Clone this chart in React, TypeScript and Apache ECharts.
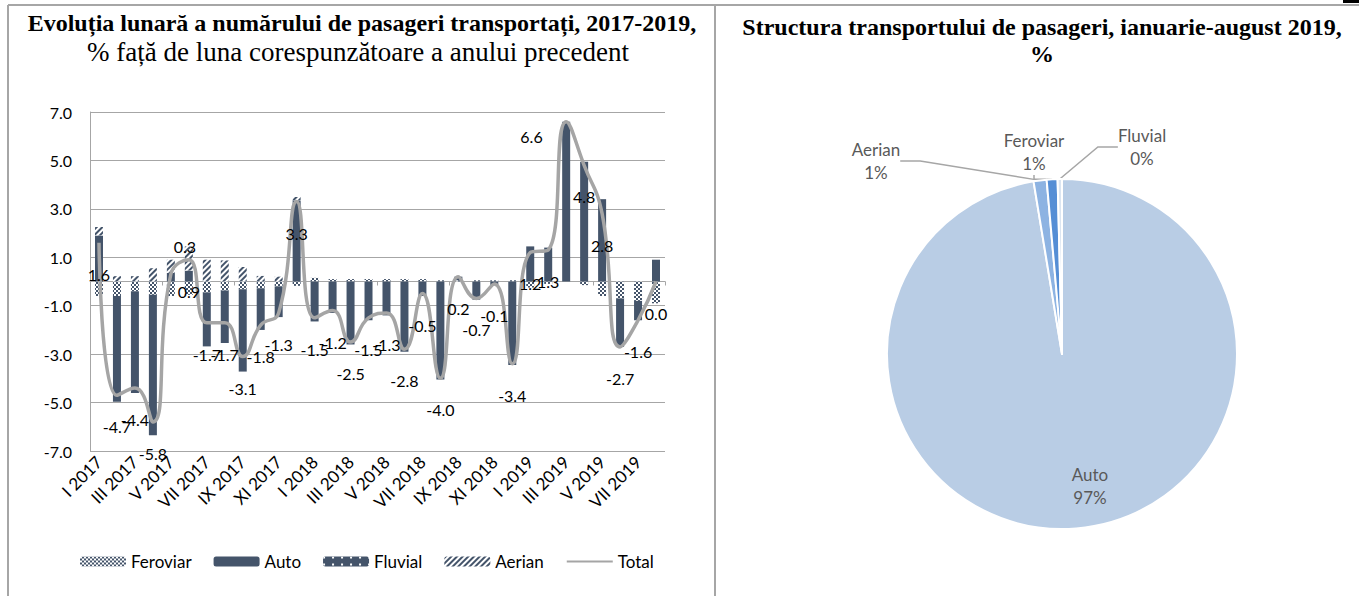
import React, { useEffect, useRef } from "react";
import * as echarts from "echarts";

const months = [
  "I 2017", "II 2017", "III 2017", "IV 2017", "V 2017", "VI 2017", "VII 2017", "VIII 2017",
  "IX 2017", "X 2017", "XI 2017", "XII 2017",
  "I 2018", "II 2018", "III 2018", "IV 2018", "V 2018", "VI 2018", "VII 2018", "VIII 2018",
  "IX 2018", "X 2018", "XI 2018", "XII 2018",
  "I 2019", "II 2019", "III 2019", "IV 2019", "V 2019", "VI 2019", "VII 2019", "VIII 2019",
];

const feroviar = [
  -0.6, -0.6, -0.4, -0.55, -0.6, -0.55, -0.45, -0.37, -0.32, -0.28, -0.2, -0.18,
  0.15, 0.1, 0.1, 0.1, 0.1, 0.1, 0.1, 0.05, 0.05, 0.05, 0.05, 0.05,
  -0.25, -0.1, 0, -0.15, -0.6, -0.7, -0.8, -0.9,
];
const auto = [
  1.9, -4.37, -4.2, -5.8, 0.35, 0.45, -2.23, -2.17, -3.4, -1.72, -1.27, 3.35,
  -1.65, -1.3, -2.6, -1.6, -1.4, -2.9, -0.6, -4.05, 0.15, -0.75, -0.15, -3.45,
  1.45, 1.4, 6.6, 4.95, 3.4, -2.0, -0.8, 0.9,
];
const fluvial = [
  0, 0, 0, 0, 0, 0, 0, 0, 0, 0, 0, 0,
  0, 0, 0, 0, 0, 0, 0, 0, 0, 0, 0, 0,
  0, 0, 0, 0, 0, 0, 0, 0,
];
const aerian = [
  0.35, 0.22, 0.22, 0.55, 0.55, 1.0, 0.9, 0.87, 0.6, 0.23, 0.2, 0.14,
  0, 0, 0, 0, 0, 0, 0, 0, 0, 0, 0, 0,
  0, 0, 0, 0, 0, 0, 0, 0,
];
const total = [
  1.6, -4.7, -4.4, -5.8, 0.3, 0.9, -1.7, -1.7, -3.1, -1.8, -1.3, 3.3,
  -1.5, -1.2, -2.5, -1.5, -1.3, -2.8, -0.5, -4.0, 0.2, -0.7, -0.1, -3.4,
  1.2, 1.3, 6.6, 4.8, 2.8, -2.7, -1.6, 0.0,
];

const pieNames = ["Auto", "Aerian", "Feroviar", "Fluvial"];
const pieValues = [97.4, 1.2, 1.0, 0.4];
const pieColors = ["#b9cde5", "#8db3e2", "#558ed5", "#dbe5f1"];

export default function App() {
  const ref = useRef<HTMLDivElement>(null);

  useEffect(() => {
    const chart = echarts.init(ref.current!, null, { renderer: "svg" });
    const navy = "#44546a";
    const gridLine = "#a6a6a6";
    const sans = "Lato, 'Open Sans', sans-serif";
    const serif = "'Liberation Serif', 'Times New Roman', serif";

    const labelOverrides: Record<number, any> = {
      4: { position: "top", offset: [14, 4] },
      26: { position: "left", offset: [0, 15] },
    };
    const totalData = total.map((v, i) =>
      labelOverrides[i] ? { value: v, label: labelOverrides[i] } : v
    );

    const pieLabelPos: Record<number, [number, number]> = {
      0: [1090, 486],
      1: [876, 161],
      2: [1034, 152],
      3: [1142, 147],
    };

    const pieData = pieNames.map((n, i) => ({
      name: n,
      value: pieValues[i],
      itemStyle: { color: pieColors[i] },
      labelLine: { show: i !== 0 },
    }));

    const barCommon = {
      type: "bar",
      stack: "s",
      barWidth: 8,
      xAxisIndex: 0,
      yAxisIndex: 0,
    };

    const centered = { textAlign: "center", textVerticalAlign: "middle", align: "center", verticalAlign: "middle" };

    chart.setOption({
      animation: false,
      graphic: {
        elements: [
          { type: "line", shape: { x1: 8, y1: 5, x2: 1359, y2: 5 }, style: { stroke: gridLine, lineWidth: 2 } },
          { type: "line", shape: { x1: 8, y1: 5, x2: 8, y2: 596 }, style: { stroke: gridLine, lineWidth: 2 } },
          { type: "line", shape: { x1: 715, y1: 5, x2: 715, y2: 596 }, style: { stroke: gridLine, lineWidth: 2 } },
          { type: "rect", shape: { x: 1343, y: 0, width: 16, height: 3 }, style: { fill: "#000" } },
          {
            type: "text", x: 362, y: 23,
            style: {
              text: "Evoluția lunară a numărului de pasageri transportați, 2017-2019,",
              fontFamily: serif, fontSize: 24, fontWeight: "bold", fill: "#000", ...centered,
            },
          },
          {
            type: "text", x: 358, y: 52,
            style: {
              text: "% față de luna corespunzătoare a anului precedent",
              fontFamily: serif, fontSize: 27, fill: "#000", ...centered,
            },
          },
          {
            type: "text", x: 1042, y: 27,
            style: {
              text: "Structura transportului de pasageri, ianuarie-august 2019,",
              fontFamily: serif, fontSize: 24, fontWeight: "bold", fill: "#000", ...centered,
            },
          },
          {
            type: "text", x: 1042, y: 54,
            style: {
              text: "%",
              fontFamily: serif, fontSize: 24, fontWeight: "bold", fill: "#000", ...centered,
            },
          },
        ],
      },
      legend: {
        left: 75,
        top: 548,
        itemWidth: 46,
        itemHeight: 10,
        itemGap: 22,
        textStyle: { fontSize: 17, color: "#000", fontFamily: sans },
        data: ["Feroviar", "Auto", "Fluvial", "Aerian", "Total"],
        selectedMode: false,
      },
      grid: [{ left: 90, right: 694, top: 112, bottom: 145 }],
      xAxis: [
        {
          type: "category",
          data: months,
          position: "bottom",
          axisLine: { show: true, onZero: true, lineStyle: { color: gridLine, width: 1 } },
          axisTick: { show: true, length: 4, lineStyle: { color: gridLine } },
          axisLabel: { show: false },
          splitLine: { show: false },
          z: 1,
        },
        {
          type: "category",
          data: months,
          position: "bottom",
          axisLine: { show: false, onZero: false },
          axisTick: { show: false },
          axisLabel: {
            interval: 1,
            rotate: 45,
            fontSize: 17,
            color: "#000",
            fontFamily: sans,
            margin: 8,
          },
          splitLine: { show: false },
        },
      ],
      yAxis: [
        {
          type: "value",
          min: -7,
          max: 7,
          interval: 2,
          axisLabel: {
            formatter: (v: number) => v.toFixed(1),
            fontSize: 16,
            color: "#000",
            fontFamily: sans,
            margin: 18,
          },
          splitLine: { show: true, lineStyle: { color: gridLine, width: 1 } },
          axisLine: { show: true, lineStyle: { color: gridLine, width: 1 } },
          axisTick: { show: false },
        },
      ],
      series: [
        {
          ...barCommon,
          name: "Feroviar",
          data: feroviar,
          itemStyle: {
            color: "#ffffff",
            decal: {
              symbol: "rect",
              symbolSize: 1,
              color: navy,
              dashArrayX: [[2, 2], [0, 2, 2, 0]],
              dashArrayY: [2, 0],
            },
          },
        },
        {
          ...barCommon,
          name: "Auto",
          data: auto,
          itemStyle: { color: navy },
        },
        {
          ...barCommon,
          name: "Fluvial",
          data: fluvial,
          itemStyle: {
            color: navy,
            decal: {
              symbol: "rect",
              symbolSize: 1,
              color: "#ffffff",
              dashArrayX: [2, 7],
              dashArrayY: [2, 5],
            },
          },
        },
        {
          ...barCommon,
          name: "Aerian",
          data: aerian,
          itemStyle: {
            color: "#ffffff",
            decal: {
              symbol: "rect",
              symbolSize: 1,
              color: navy,
              dashArrayX: [1, 0],
              dashArrayY: [2, 2],
              rotation: -Math.PI / 4,
            },
          },
        },
        {
          name: "Total",
          type: "line",
          xAxisIndex: 0,
          yAxisIndex: 0,
          data: totalData,
          smooth: 0.5,
          symbol: "circle",
          symbolSize: 1,
          showSymbol: true,
          itemStyle: { color: "rgba(0,0,0,0)" },
          lineStyle: { color: "#a5a5a5", width: 3.5 },
          label: {
            show: true,
            position: "bottom",
            distance: 23,
            fontSize: 16,
            color: "#000",
            fontFamily: sans,
            formatter: (p: any) => Number(p.value).toFixed(1),
          },
          z: 5,
        },
        {
          name: "Structura",
          type: "pie",
          center: [1062, 354],
          radius: 175,
          startAngle: 90,
          clockwise: true,
          data: pieData,
          itemStyle: { borderColor: "#ffffff", borderWidth: 2 },
          label: {
            show: true,
            fontSize: 17,
            lineHeight: 23,
            color: "#595959",
            fontFamily: sans,
            formatter: (p: any) => `${p.name}\n${Math.round(p.value)}%`,
          },
          labelLine: { show: true, length: 10, length2: 20, lineStyle: { color: gridLine, width: 1.5 } },
          labelLayout: (p: any) => {
            const pos = pieLabelPos[p.dataIndex];
            return { x: pos[0], y: pos[1], align: "center", verticalAlign: "middle" };
          },
        },
      ],
    });

    return () => chart.dispose();
  }, []);

  return (
    <div
      ref={ref}
      style={{ position: "absolute", left: 0, top: 0, width: 1359, height: 596 }}
    />
  );
}
